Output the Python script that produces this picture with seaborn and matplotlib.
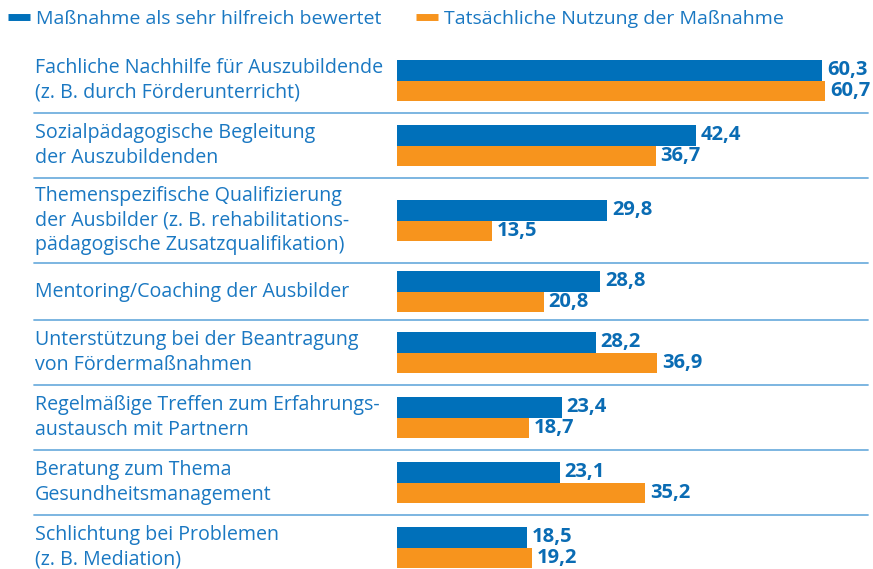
import numpy as np
import pandas as pd
import seaborn as sns
import matplotlib.pyplot as plt
from matplotlib.lines import Line2D
from matplotlib.transforms import blended_transform_factory

# Data
massnahmen = [
    'Fachliche Nachhilfe für Auszubildende\n(z. B. durch Förderunterricht)',
    'Sozialpädagogische Begleitung\nder Auszubildenden',
    'Themenspezifische Qualifizierung\nder Ausbilder (z. B. rehabilitations-\npädagogische Zusatzqualifikation)',
    'Mentoring/Coaching der Ausbilder',
    'Unterstützung bei der Beantragung\nvon Fördermaßnahmen',
    'Regelmäßige Treffen zum Erfahrungs-\naustausch mit Partnern',
    'Beratung zum Thema\nGesundheitsmanagement',
    'Schlichtung bei Problemen\n(z. B. Mediation)',
]
series = ['Maßnahme als sehr hilfreich bewertet', 'Tatsächliche Nutzung der Maßnahme']
hilfreich = [60.3, 42.4, 29.8, 28.8, 28.2, 23.4, 23.1, 18.5]
nutzung = [60.7, 36.7, 13.5, 20.8, 36.9, 18.7, 35.2, 19.2]

blue = '#0070ba'
orange = '#f7941d'
text_blue = '#1a78c2'
line_blue = '#72b0de'

# row heights (px) depending on the number of label lines
row_h = {1: 57, 2: 65, 3: 85}
heights = [row_h[m.count('\n') + 1] for m in massnahmen]
edges = 48 + np.concatenate([[0], np.cumsum(heights)])
centers = (edges[:-1] + edges[1:]) / 2

df = pd.DataFrame({
    'pos': np.tile(centers, 2),
    'wert': hilfreich + nutzung,
    'reihe': np.repeat(series, len(massnahmen)),
})

W, H = 873, 569
fig = plt.figure(figsize=(W / 100, H / 100), dpi=100)
ax = fig.add_axes([0, 0, 1, 1])
sns.set_style('white')
plt.rcParams['font.family'] = ['Open Sans', 'DejaVu Sans']

px_per_unit = 7.06
x0 = 396.7
sns.barplot(data=df, x='wert', y='pos', hue='reihe', hue_order=series,
            orient='y', native_scale=True, palette=[blue, orange],
            saturation=1, linewidth=0,
            width=41.5 / np.diff(centers).min(), legend=False, ax=ax)

ax.set_xlim(-x0 / px_per_unit, (W - x0) / px_per_unit)
ax.set_ylim(H, 0)
ax.axis('off')

for c in ax.containers:
    labels = [f'{b.get_width():.1f}'.replace('.', ',') for b in c]
    ax.bar_label(c, labels=labels, padding=3.5, color='#0a6cb4',
                 fontsize=14.5, fontweight='bold', family='Open Sans')

# category labels and separators
tr = blended_transform_factory(fig.transFigure, ax.transData)
for m, yc in zip(massnahmen, centers):
    ax.text(35 / W, yc, m, transform=tr, ha='left', va='center',
            color=text_blue, fontsize=14.1, linespacing=1.27)
for y in edges[1:-1]:
    ax.plot([34 / W, 868 / W], [y, y], transform=tr, color=line_blue,
            lw=1.3, clip_on=False)

handles = [Line2D([], [], color=c, lw=5, solid_capstyle='butt') for c in (blue, orange)]
leg = fig.legend(handles, series, loc='center left', bbox_to_anchor=(8 / W, 1 - 19 / H),
                 ncol=2, frameon=False, fontsize=14, handlelength=1.15,
                 handletextpad=0.3, columnspacing=1.75, borderpad=0,
                 borderaxespad=0, labelcolor=text_blue)

fig.savefig('out.png', dpi=100)
